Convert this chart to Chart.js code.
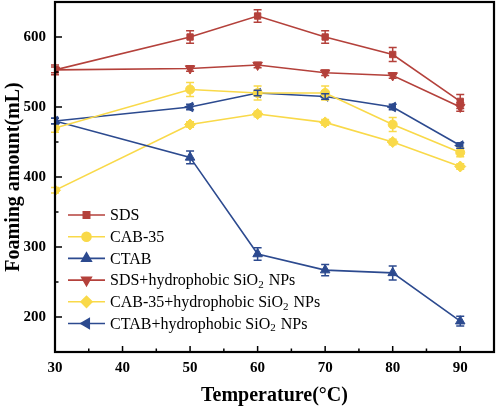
<!DOCTYPE html>
<html>
<head>
<meta charset="utf-8">
<script src="https://cdn.jsdelivr.net/npm/chart.js@4"></script>
<style>
  html, body { margin: 0; padding: 0; background: #fff; }
  #wrap { width: 496px; height: 408px; }
</style>
</head>
<body>
<div id="wrap"><canvas id="foamChart" width="496" height="408"></canvas></div>
<script>
// =========================
// Data
// =========================
const temps = [30, 50, 60, 70, 80, 90];

const sds = [553, 600, 630, 600, 575, 508];
const cab = [470, 525, 520, 520, 475, 435];
const ctab = [480, 428, 290, 267, 263, 194];
const sdsNp = [553, 555, 560, 549, 545, 500];
const cabNp = [381, 475, 490, 478, 450, 415];
const ctabNp = [480, 500, 520, 515, 500, 445];

// error bar half-widths
const sdsErr = [7, 9, 9, 9, 10, 10];
const cabErr = [6, 10, 10, 10, 10, 6];
const ctabErr = [4, 9, 9, 8, 10, 7];
const sdsNpErr = [4, 4, 4, 4, 4, 6];
const cabNpErr = [4, 4, 4, 4, 4, 4];
const ctabNpErr = [4, 4, 4, 4, 4, 4];

const xTicks = [30, 40, 50, 60, 70, 80, 90];
const yTicks = [200, 300, 400, 500, 600];

const RED = "#b4413b";
const YELLOW = "#f9d949";
const BLUE = "#2c4a8f";
const SERIF = "'Liberation Serif', 'Times New Roman', serif";

function pts(vals) {
  return vals.map((v, i) => ({ x: temps[i], y: v }));
}

function series(label, vals, err, color, style, rot, radius) {
  return {
    label: label,
    data: pts(vals),
    errors: err,
    borderColor: color,
    backgroundColor: color,
    borderWidth: 1.6,
    pointStyle: style,
    pointRotation: rot,
    pointRadius: radius,
    pointBorderWidth: 1,
    tension: 0,
  };
}

// fixed box sizes, no auto padding from tick labels
function fixBox(s, w, h) {
  if (w) s.width = w;
  if (h) s.height = h;
  s.paddingTop = 0;
  s.paddingBottom = 0;
  s.paddingLeft = 0;
  s.paddingRight = 0;
}

// =========================
// Plugins: error bars, frame + inward ticks, legend
// =========================
const errorBars = {
  id: "errorBars",
  afterDatasetsDraw(chart) {
    const ctx = chart.ctx;
    const ys = chart.scales.y;
    chart.data.datasets.forEach((ds, di) => {
      const meta = chart.getDatasetMeta(di);
      ctx.save();
      ctx.strokeStyle = ds.borderColor;
      ctx.lineWidth = 1.5;
      meta.data.forEach((pt, i) => {
        const e = ds.errors[i];
        const yv = ds.data[i].y;
        const yTop = ys.getPixelForValue(yv + e);
        const yBot = ys.getPixelForValue(yv - e);
        const x = pt.x;
        ctx.beginPath();
        ctx.moveTo(x, yTop); ctx.lineTo(x, yBot);
        ctx.moveTo(x - 4, yTop); ctx.lineTo(x + 4, yTop);
        ctx.moveTo(x - 4, yBot); ctx.lineTo(x + 4, yBot);
        ctx.stroke();
      });
      ctx.restore();
    });
  },
};

const frame = {
  id: "frame",
  afterDraw(chart) {
    const ctx = chart.ctx;
    const a = chart.chartArea;
    const xs = chart.scales.x;
    const ys = chart.scales.y;
    ctx.save();
    ctx.strokeStyle = "#000";
    ctx.lineWidth = 1.5;
    // major + minor ticks, pointing inward
    ctx.beginPath();
    for (let v = 30; v <= 95; v += 5) {
      const px = xs.getPixelForValue(v);
      const len = v % 10 === 0 ? 6 : 3.5;
      ctx.moveTo(px, a.bottom); ctx.lineTo(px, a.bottom - len);
    }
    for (let v = 150; v <= 650; v += 50) {
      const py = ys.getPixelForValue(v);
      const len = v % 100 === 0 ? 7 : 3.5;
      ctx.moveTo(a.left, py); ctx.lineTo(a.left + len, py);
    }
    ctx.stroke();
    ctx.lineWidth = 2.2;
    ctx.strokeRect(a.left, a.top, a.right - a.left, a.bottom - a.top);
    ctx.restore();
  },
};

function drawLabel(ctx, text, x, y) {
  // render "SiO2" with a subscript 2
  const parts = text.split("SiO2");
  let cx = x;
  parts.forEach((p, i) => {
    ctx.font = "16px " + SERIF;
    ctx.fillText(p, cx, y);
    cx += ctx.measureText(p).width;
    if (i < parts.length - 1) {
      ctx.fillText("SiO", cx, y);
      cx += ctx.measureText("SiO").width;
      ctx.font = "11px " + SERIF;
      ctx.fillText("2", cx, y + 4);
      cx += ctx.measureText("2").width + 1;
    }
  });
}

const boxLegend = {
  id: "boxLegend",
  afterDraw(chart) {
    const ctx = chart.ctx;
    ctx.save();
    ctx.textBaseline = "middle";
    ctx.fillStyle = "#000";
    chart.data.datasets.forEach((ds, i) => {
      const y = 215 + i * 21.7;
      ctx.strokeStyle = ds.borderColor;
      ctx.lineWidth = 1.6;
      ctx.beginPath();
      ctx.moveTo(68, y); ctx.lineTo(105, y);
      ctx.stroke();
      ctx.fillStyle = ds.backgroundColor;
      Chart.helpers.drawPoint(ctx, {
        pointStyle: ds.pointStyle,
        rotation: ds.pointRotation,
        radius: ds.pointRadius,
        borderWidth: 1,
      }, 86.5, y);
      ctx.fillStyle = "#000";
      drawLabel(ctx, ds.label, 110, y + 1);
    });
    ctx.restore();
  },
};

// =========================
// Chart
// =========================
function renderFoamChart() {
  const ctx = document.getElementById("foamChart").getContext("2d");

  new Chart(ctx, {
    type: "line",
    data: {
      datasets: [
        series("SDS", sds, sdsErr, RED, "rect", 0, 4.5),
        series("CAB-35", cab, cabErr, YELLOW, "circle", 0, 4.5),
        series("CTAB", ctab, ctabErr, BLUE, "triangle", 0, 5.5),
        series("SDS+hydrophobic SiO2 NPs", sdsNp, sdsNpErr, RED, "triangle", 180, 5.5),
        series("CAB-35+hydrophobic SiO2 NPs", cabNp, cabNpErr, YELLOW, "rectRot", 0, 5.5),
        series("CTAB+hydrophobic SiO2 NPs", ctabNp, ctabNpErr, BLUE, "triangle", -90, 5.5),
      ],
    },
    options: {
      responsive: false,
      animation: false,
      layout: { autoPadding: false, padding: { top: 2, right: 2, left: 0, bottom: 0 } },
      plugins: {
        legend: { display: false },
        tooltip: { enabled: false },
      },
      scales: {
        x: {
          type: "linear",
          min: 30,
          max: 95,
          afterBuildTicks: (s) => { s.ticks = xTicks.map((v) => ({ value: v })); },
          afterFit: (s) => fixBox(s, 0, 56),
          grid: { display: false, drawTicks: false },
          border: { display: false },
          ticks: {
            padding: 7,
            color: "#000",
            font: { family: SERIF, size: 15, weight: "bold" },
          },
          title: {
            display: true,
            text: "Temperature(°C)",
            color: "#000",
            padding: { top: 4, bottom: 0 },
            font: { family: SERIF, size: 20, weight: "bold" },
          },
        },
        y: {
          min: 150,
          max: 650,
          afterBuildTicks: (s) => { s.ticks = yTicks.map((v) => ({ value: v })); },
          afterFit: (s) => fixBox(s, 55, 0),
          grid: { display: false, drawTicks: false },
          border: { display: false },
          ticks: {
            padding: 9,
            color: "#000",
            font: { family: SERIF, size: 15, weight: "bold" },
          },
          title: {
            display: true,
            text: "Foaming amount(mL)",
            color: "#000",
            padding: { top: 2, bottom: 0 },
            font: { family: SERIF, size: 20, weight: "bold" },
          },
        },
      },
    },
    plugins: [errorBars, frame, boxLegend],
  });
}

renderFoamChart();
</script>
</body>
</html>
